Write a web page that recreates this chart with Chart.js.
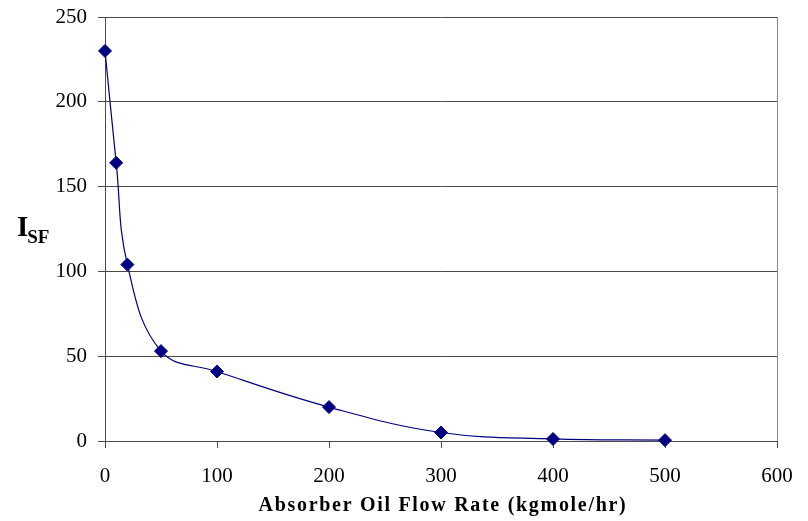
<!DOCTYPE html>
<html>
<head>
<meta charset="utf-8">
<script src="https://cdn.jsdelivr.net/npm/chart.js@4/dist/chart.umd.min.js"></script>
<style>
  html, body { margin: 0; padding: 0; background: #ffffff; }
  #wrap { width: 808px; height: 521px; position: relative; }
</style>
</head>
<body>
<div id="wrap"><canvas id="c" width="808" height="521"></canvas></div>
<script>
// ---- Data ----
const flowRates = [0, 10, 20, 50, 100, 200, 300, 400, 500];        // kgmole/hr
const isfValues = [230, 164, 104, 53, 41, 20, 5, 1.2, 0.5];        // I_SF
const xTickValues = [0, 100, 200, 300, 400, 500, 600];
const yTickValues = [0, 50, 100, 150, 200, 250];
const xAxisTitle = 'Absorber Oil Flow Rate (kgmole/hr)';
const yAxisMain = 'I';
const yAxisSub = 'SF';

const points = flowRates.map((x, i) => ({ x: x, y: isfValues[i] }));
const SERIF = '"Liberation Serif", "Times New Roman", serif';

const framePlugin = {
  id: 'frame',
  afterDraw(chart) {
    const ctx = chart.ctx;
    const a = chart.chartArea;
    ctx.save();
    // right border
    ctx.strokeStyle = '#8a8a8a';
    ctx.lineWidth = 1;
    ctx.beginPath();
    ctx.moveTo(Math.round(a.right) + 0.5, a.top);
    ctx.lineTo(Math.round(a.right) + 0.5, a.bottom);
    ctx.stroke();
    // x axis title
    ctx.fillStyle = '#000';
    ctx.font = 'bold 20px ' + SERIF;
    ctx.textAlign = 'center';
    ctx.textBaseline = 'alphabetic';
    try { ctx.letterSpacing = '1.7px'; } catch (e) {}
    ctx.fillText(xAxisTitle, 443, 511);
    try { ctx.letterSpacing = '0px'; } catch (e) {}
    // y axis title I_SF
    ctx.textAlign = 'left';
    ctx.font = 'bold 29px ' + SERIF;
    ctx.fillText(yAxisMain, 17, 236);
    const wI = ctx.measureText(yAxisMain).width;
    ctx.font = 'bold 19px ' + SERIF;
    ctx.fillText(yAxisSub, 17 + wI - 1, 243);
    ctx.restore();
  }
};

function zeroPad(scale) {
  scale.paddingTop = 0; scale.paddingBottom = 0;
  scale.paddingLeft = 0; scale.paddingRight = 0;
}

new Chart(document.getElementById('c'), {
  type: 'line',
  data: {
    datasets: [{
      data: points,
      borderColor: '#000080',
      backgroundColor: '#000080',
      borderWidth: 1.2,
      pointStyle: 'rectRot',
      pointRadius: 6.5,
      pointHoverRadius: 6.5,
      pointBorderWidth: 1,
      pointBackgroundColor: '#000080',
      pointBorderColor: '#000080',
      tension: 0.4,
      clip: false,
      fill: false
    }]
  },
  options: {
    responsive: false,
    animation: false,
    devicePixelRatio: 1,
    layout: { padding: { top: 17, right: 31, bottom: 0, left: 0 } },
    plugins: {
      legend: { display: false },
      tooltip: { enabled: false },
      title: { display: false }
    },
    scales: {
      x: {
        type: 'linear',
        min: 0, max: 600,
        afterFit(scale) { scale.height = 80; zeroPad(scale); },
        afterBuildTicks(scale) { scale.ticks = xTickValues.map(v => ({ value: v })); },
        grid: {
          drawOnChartArea: false,
          drawTicks: true,
          tickLength: 7,
          color: '#4a4a4a',
          lineWidth: 1
        },
        border: { display: true, color: '#4a4a4a', width: 1 },
        ticks: {
          color: '#000',
          font: { family: SERIF, size: 21 },
          padding: 16,
          maxRotation: 0
        }
      },
      y: {
        type: 'linear',
        min: 0, max: 250,
        afterFit(scale) { scale.width = 105; zeroPad(scale); },
        afterBuildTicks(scale) { scale.ticks = yTickValues.map(v => ({ value: v })); },
        grid: {
          drawOnChartArea: true,
          drawTicks: true,
          tickLength: 7,
          color: '#4a4a4a',
          lineWidth: 1
        },
        border: { display: true, color: '#4a4a4a', width: 1 },
        ticks: {
          color: '#000',
          font: { family: SERIF, size: 21 },
          padding: 11
        }
      }
    }
  },
  plugins: [framePlugin]
});
</script>
</body>
</html>
